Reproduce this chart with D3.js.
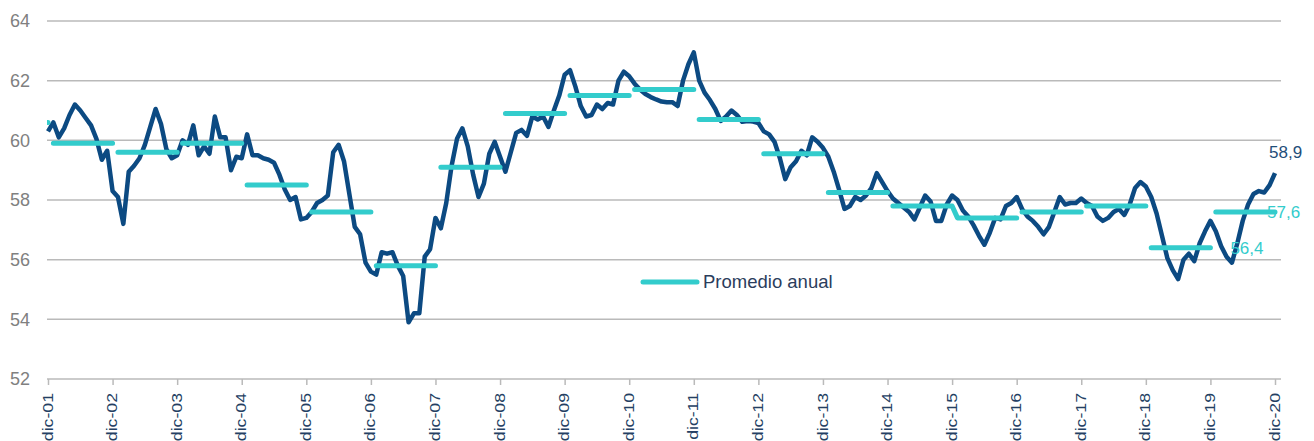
<!DOCTYPE html>
<html>
<head>
<meta charset="utf-8">
<script src="https://cdn.jsdelivr.net/npm/d3@7"></script>
<style>
  body { margin: 0; background: #fff; }
  svg { display: block; font-family: "Liberation Sans", Arial, sans-serif; }
</style>
</head>
<body>
<svg id="chart" width="1314" height="441"></svg>
<script>
// monthly index, from dic-01 to dic-20 (229 months)
const indice = [
  60.3,
  60.6, 60.1, 60.4, 60.85, 61.2, 61.0, 60.75, 60.5, 60.05, 59.35, 59.65, 58.3,
  58.1, 57.2, 58.95, 59.15, 59.4, 59.85, 60.45, 61.05, 60.55, 59.7, 59.4, 59.5,
  60.0, 59.85, 60.5, 59.5, 59.8, 59.55, 60.8, 60.1, 60.1, 59.0, 59.45, 59.4,
  60.2, 59.5, 59.5, 59.4, 59.35, 59.25, 58.85, 58.35, 58.0, 58.1, 57.35, 57.4,
  57.6, 57.9, 58.0, 58.15, 59.6, 59.85, 59.3, 58.2, 57.1, 56.85, 55.9, 55.6,
  55.5, 56.25, 56.2, 56.25, 55.8, 55.45, 53.9, 54.2, 54.2, 56.1, 56.35, 57.4,
  57.05, 57.9, 59.15, 60.05, 60.4, 59.8, 58.85, 58.1, 58.55, 59.55, 59.95, 59.45,
  58.95, 59.6, 60.25, 60.35, 60.15, 60.8, 60.7, 60.8, 60.45, 61.0, 61.5, 62.2,
  62.35, 61.8, 61.15, 60.8, 60.85, 61.2, 61.05, 61.25, 61.2, 62.0, 62.3, 62.15,
  61.9, 61.7, 61.55, 61.45, 61.37, 61.3, 61.28, 61.28, 61.15, 62.0, 62.55, 62.95,
  62.0, 61.6, 61.35, 61.05, 60.65, 60.8, 61.0, 60.85, 60.62, 60.65, 60.63, 60.58,
  60.3, 60.2, 59.95, 59.4, 58.7, 59.1, 59.3, 59.65, 59.5, 60.1, 59.95, 59.75,
  59.45, 58.95, 58.35, 57.7, 57.8, 58.1, 58.0, 58.15, 58.4, 58.9, 58.6, 58.3,
  58.05, 57.9, 57.75, 57.6, 57.35, 57.75, 58.15, 57.95, 57.3, 57.3, 57.85, 58.15,
  58.0, 57.65, 57.45, 57.15, 56.8, 56.5, 56.9, 57.4, 57.35, 57.8, 57.9, 58.1,
  57.7, 57.45, 57.3, 57.1, 56.85, 57.1, 57.6, 58.1, 57.85, 57.9, 57.9, 58.05,
  57.9, 57.8, 57.45, 57.3, 57.4, 57.6, 57.7, 57.5, 57.85, 58.4, 58.6, 58.45,
  58.1, 57.55, 56.8, 56.05, 55.65, 55.35, 56.0, 56.2, 55.95, 56.55, 56.95, 57.3,
  56.95, 56.45, 56.1, 55.9, 56.55, 57.3, 57.85, 58.2, 58.3, 58.25, 58.5, 58.9
]

const anios = [2001, 2002, 2003, 2004, 2005, 2006, 2007, 2008, 2009, 2010,
               2011, 2012, 2013, 2014, 2015, 2016, 2017, 2018, 2019, 2020]
const promedioAnual = [60.6, 59.9, 59.6, 59.9, 58.5, 57.6, 55.8, 59.1, 60.9, 61.5,
                       61.7, 60.7, 59.55, 58.25, 57.8, 57.4, 57.6, 57.8, 56.4, 57.6]
// years whose average line is joined to the previous year (no gap)
const unidos = [2016]

const tickLabels = ["dic-01", "dic-02", "dic-03", "dic-04", "dic-05", "dic-06", "dic-07",
                    "dic-08", "dic-09", "dic-10", "dic-11", "dic-12", "dic-13", "dic-14",
                    "dic-15", "dic-16", "dic-17", "dic-18", "dic-19", "dic-20"]
const yTicks = [52, 54, 56, 58, 60, 62, 64]

const azul = "#0c4a82", cian = "#33cccc"
const left = 47, right = 1281

const svg = d3.select("#chart")
const x = d3.scaleLinear().domain([0, indice.length - 1]).range([48, 1275])
const y = d3.scaleLinear().domain([52, 64]).range([379, 21])
const fmt = d3.formatLocale({decimal: ",", thousands: ".", grouping: [3], currency: ["", ""]}).format(".1f")

// grid
svg.append("g")
  .selectAll("line")
  .data(yTicks.slice(1))
  .join("line")
  .attr("x1", left).attr("x2", right)
  .attr("y1", d => y(d)).attr("y2", d => y(d))
  .attr("stroke", "#bababa")
  .attr("stroke-width", 1.5)

// y labels
const yAxis = svg.append("g")
  .attr("transform", `translate(${left},0)`)
  .call(d3.axisLeft(y).tickValues(yTicks).tickSize(0).tickPadding(17))
yAxis.select(".domain").remove()
yAxis.selectAll("text")
  .attr("font-size", 18)
  .attr("font-family", "Liberation Sans, Arial, sans-serif")
  .attr("fill", "#808080")

// x axis
svg.append("line")
  .attr("x1", left).attr("x2", right)
  .attr("y1", y(52)).attr("y2", y(52))
  .attr("stroke", "#bababa").attr("stroke-width", 1.5)

const xAxis = svg.append("g")
  .attr("transform", `translate(0,${y(52)})`)
  .call(d3.axisBottom(x)
    .tickValues(d3.range(0, indice.length, 12))
    .tickFormat((d, i) => tickLabels[i])
    .tickSize(6)
    .tickSizeOuter(0))
xAxis.select(".domain").remove()
xAxis.selectAll(".tick line").attr("stroke", "#bababa").attr("stroke-width", 1.5)
// labels are a bit stretched along their length in the original
xAxis.selectAll("text")
  .attr("transform", "rotate(-90) scale(1.22,1)")
  .attr("text-anchor", "end")
  .attr("x", -14 / 1.22)
  .attr("y", -1)
  .attr("dy", "0.35em")
  .attr("font-size", 14.5)
  .attr("font-family", "Liberation Sans, Arial, sans-serif")
  .attr("fill", "#243f63")

// main series
const line = d3.line().x((d, i) => x(i)).y(d => y(d))
svg.append("path")
  .datum(indice)
  .attr("d", line)
  .attr("fill", "none")
  .attr("stroke", azul)
  .attr("stroke-width", 4.5)
  .attr("stroke-linejoin", "round")

// yearly averages, Jan..Dec of each year
const puntosProm = []
anios.forEach((a, k) => {
  if (!unidos.includes(a)) puntosProm.push(null)
  const ini = (a - 2002) * 12 + 1
  for (let m = 0; m < 12; m++) puntosProm.push({i: ini + m, v: promedioAnual[k]})
})

svg.append("clipPath").attr("id", "plot")
  .append("rect")
  .attr("x", left).attr("y", 0)
  .attr("width", right - left).attr("height", 441)

svg.append("path")
  .datum(puntosProm)
  .attr("clip-path", "url(#plot)")
  .attr("d", d3.line().defined(d => d).x(d => x(d.i)).y(d => y(d.v)))
  .attr("fill", "none")
  .attr("stroke", cian)
  .attr("stroke-width", 5)
  .attr("stroke-linecap", "round")
  .attr("stroke-linejoin", "round")

// data labels
const nUlt = indice.length - 1
const iProm19 = (2019 - 2002) * 12 + 12
svg.append("text")
  .attr("x", x(nUlt) - 6).attr("y", y(indice[nUlt]) - 15)
  .attr("font-size", 17).attr("fill", "#1f4e79")
  .text(fmt(indice[nUlt]))
svg.append("text")
  .attr("x", x(nUlt) - 8).attr("y", y(promedioAnual[19]) + 6.5)
  .attr("font-size", 17).attr("fill", cian)
  .text(fmt(promedioAnual[19]))
svg.append("text")
  .attr("x", x(iProm19) + 20).attr("y", y(promedioAnual[18]) + 6)
  .attr("font-size", 17).attr("fill", cian)
  .text(fmt(promedioAnual[18]))

// legend
const leg = svg.append("g").attr("transform", "translate(643,282)")
leg.append("line")
  .attr("x1", 0).attr("x2", 54)
  .attr("stroke", cian).attr("stroke-width", 5).attr("stroke-linecap", "round")
leg.append("text")
  .attr("x", 60).attr("dy", "0.35em")
  .attr("font-size", 18.5).attr("fill", "#2b3d5c")
  .text("Promedio anual")
</script>
</body>
</html>
